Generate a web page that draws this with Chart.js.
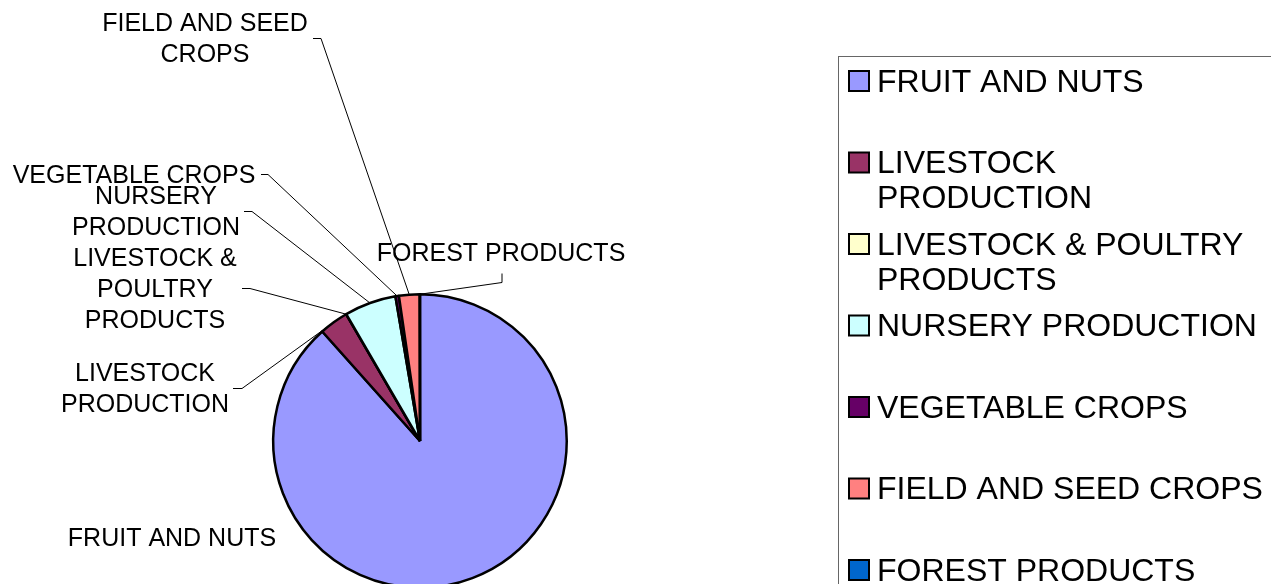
<!DOCTYPE html>
<html>
<head>
<meta charset="utf-8">
<title>Agricultural Production</title>
<script src="https://cdn.jsdelivr.net/npm/chart.js@4.4.1/dist/chart.umd.min.js"></script>
<style>
  html, body { margin: 0; padding: 0; background: #fff; overflow: hidden; }
  #wrap { position: relative; width: 1271px; height: 600px; }
</style>
</head>
<body>
<div id="wrap"><canvas id="cropChart"></canvas></div>
<script>
// ------------------ Data ------------------
const categories = [
    "FRUIT AND NUTS",
    "LIVESTOCK PRODUCTION",
    "LIVESTOCK & POULTRY PRODUCTS",
    "NURSERY PRODUCTION",
    "VEGETABLE CROPS",
    "FIELD AND SEED CROPS",
    "FOREST PRODUCTS"
];

// share of total value, percent
const shares = [88.4, 3.2, 0.02, 5.7, 0.38, 2.27, 0.03];

const sliceColors = ["#9999FF", "#993366", "#FFFFCC", "#CCFFFF", "#660066", "#FF8080", "#0066CC"];

// pie callout text, one entry per line
const calloutLines = [
    ["FRUIT AND NUTS"],
    ["LIVESTOCK", "PRODUCTION"],
    ["LIVESTOCK &", "POULTRY", "PRODUCTS"],
    ["NURSERY", "PRODUCTION"],
    ["VEGETABLE CROPS"],
    ["FIELD AND SEED", "CROPS"],
    ["FOREST PRODUCTS"]
];

// ------------------ Layout ------------------
const FONT = '"Liberation Sans", Arial, sans-serif';

// where each callout sits (centre of first line) and the short elbow of its leader
const calloutLayout = [
    { x: 172, y: 539, elbow: null },
    { x: 145, y: 374, elbow: [[233, 388], [242, 388]] },
    { x: 155, y: 259, elbow: [[242, 288], [250, 288]] },
    { x: 156, y: 197, elbow: [[244, 211], [252, 211]] },
    { x: 134, y: 176, elbow: [[261, 174], [268, 174]] },
    { x: 205, y: 24, elbow: [[313, 38], [321, 38]] },
    { x: 501, y: 254, elbow: [[502, 273], [502, 282]] }
];

function wrapWords(ctx, text, maxWidth) {
    const words = text.split(" ");
    const lines = [];
    let line = "";
    words.forEach(w => {
        const test = line ? line + " " + w : w;
        if (line && ctx.measureText(test).width > maxWidth) {
            lines.push(line);
            line = w;
        } else {
            line = test;
        }
    });
    if (line) lines.push(line);
    return lines;
}

// Callouts with leader lines next to the pie
const calloutPlugin = {
    id: "callouts",
    afterDatasetsDraw(chart) {
        const ctx = chart.ctx;
        const arcs = chart.getDatasetMeta(0).data;
        ctx.save();
        ctx.font = `25px ${FONT}`;
        ctx.fillStyle = "#000";
        ctx.textAlign = "center";
        ctx.textBaseline = "middle";

        calloutLines.forEach((lines, i) => {
            const pos = calloutLayout[i];
            lines.forEach((t, k) => ctx.fillText(t, pos.x, pos.y + k * 31));

            if (!pos.elbow) return;
            const arc = arcs[i];
            const mid = (arc.startAngle + arc.endAngle) / 2;
            const tx = arc.x + Math.cos(mid) * arc.outerRadius;
            const ty = arc.y + Math.sin(mid) * arc.outerRadius;
            ctx.beginPath();
            ctx.strokeStyle = "#000";
            ctx.lineWidth = 1;
            ctx.moveTo(pos.elbow[0][0], pos.elbow[0][1] + 0.5);
            ctx.lineTo(pos.elbow[1][0], pos.elbow[1][1] + 0.5);
            ctx.lineTo(tx, ty);
            ctx.stroke();
        });
        ctx.restore();
    }
};

// Boxed legend on the right
const boxLegendPlugin = {
    id: "boxLegend",
    afterDraw(chart) {
        const ctx = chart.ctx;
        ctx.save();
        ctx.strokeStyle = "#666";
        ctx.lineWidth = 1;
        ctx.strokeRect(838.5, 56.5, 600, 700);

        ctx.font = `32px ${FONT}`;
        ctx.textAlign = "left";
        ctx.textBaseline = "middle";
        categories.forEach((name, i) => {
            const y = 81 + i * 81.5;
            ctx.fillStyle = sliceColors[i];
            ctx.fillRect(849, y - 10, 20, 20);
            ctx.strokeStyle = "#000";
            ctx.lineWidth = 2;
            ctx.strokeRect(849, y - 10, 20, 20);

            ctx.fillStyle = "#000";
            wrapWords(ctx, name, 392).forEach((t, k) => ctx.fillText(t, 877, y + 2 + k * 35));
        });
        ctx.restore();
    }
};

// ------------------ Render ------------------
function renderCropPie() {
    new Chart(document.getElementById("cropChart"), {
        type: "pie",
        data: {
            labels: categories,
            datasets: [{
                data: shares,
                backgroundColor: sliceColors,
                borderColor: "#000",
                borderWidth: 2.5
            }]
        },
        options: {
            responsive: true,
            maintainAspectRatio: false,
            animation: false,
            devicePixelRatio: 1,
            layout: { padding: { left: 272, right: 703, top: 293, bottom: 11 } },
            plugins: {
                legend: { display: false },
                tooltip: { enabled: false }
            }
        },
        plugins: [calloutPlugin, boxLegendPlugin]
    });
}

document.addEventListener("DOMContentLoaded", renderCropPie);
</script>
</body>
</html>
